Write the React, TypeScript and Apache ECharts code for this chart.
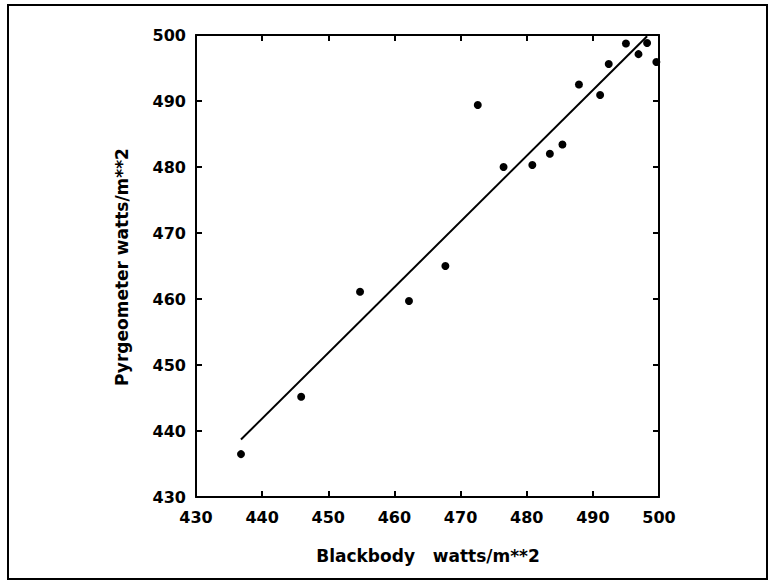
import React, { useEffect, useRef } from "react";
import * as echarts from "echarts";

const blackbody = [436.8, 445.9, 454.8, 462.2, 467.7, 472.6, 476.5, 480.85, 483.5, 485.4, 487.9, 491.1, 492.4, 495.0, 496.9, 498.2, 499.6];
const pyrgeometer = [436.5, 445.2, 461.1, 459.7, 465.0, 489.4, 480.0, 480.3, 482.0, 483.4, 492.5, 490.9, 495.6, 498.7, 497.1, 498.8, 495.9];
const fitX = [436.8, 498.2];
const fitY = [438.7, 499.8];
const xTitle = "Blackbody   watts/m**2";
const yTitle = "Pyrgeometer watts/m**2";

export default function App() {
  const ref = useRef<HTMLDivElement>(null);
  useEffect(() => {
    if (!ref.current) return;
    const chart = echarts.init(ref.current, null, { renderer: "svg" });
    const font = "DejaVu Sans";
    const axisCommon = {
      type: "value" as const,
      min: 430,
      max: 500,
      interval: 10,
      splitLine: { show: false },
      axisLine: { show: true, lineStyle: { color: "#000", width: 2 } },
      axisTick: { show: true, inside: true, length: 6, lineStyle: { color: "#000", width: 2 } },
    };
    const labelStyle = { color: "#000", fontFamily: font, fontSize: 16, fontWeight: "bold" as const };
    chart.setOption({
      animation: false,
      backgroundColor: "#fff",
      grid: { left: 196, top: 35, right: 113, bottom: 88, containLabel: false },
      xAxis: [
        { ...axisCommon, position: "bottom", axisLabel: { ...labelStyle, margin: 12 } },
        { ...axisCommon, position: "top", axisLabel: { show: false } },
      ],
      yAxis: [
        { ...axisCommon, position: "left", axisLabel: { ...labelStyle, margin: 10 } },
        { ...axisCommon, position: "right", axisLabel: { show: false } },
      ],
      graphic: [
        {
          type: "rect",
          shape: { x: 8, y: 5, width: 759, height: 574 },
          style: { fill: "none", stroke: "#000", lineWidth: 2 },
        },
        {
          type: "text",
          x: 428,
          y: 556,
          style: { text: xTitle, fill: "#000", font: `bold 17px "${font}"`, align: "center", verticalAlign: "middle" },
        },
        {
          type: "text",
          x: 122,
          y: 267,
          rotation: Math.PI / 2,
          style: { text: yTitle, fill: "#000", font: `bold 17px "${font}"`, align: "center", verticalAlign: "middle" },
        },
      ],
      series: [
        {
          type: "line",
          xAxisIndex: 0,
          yAxisIndex: 0,
          data: fitX.map((x, i) => [x, fitY[i]]),
          showSymbol: false,
          symbol: "none",
          lineStyle: { color: "#000", width: 2 },
          z: 3,
        },
        {
          type: "scatter",
          xAxisIndex: 0,
          yAxisIndex: 0,
          data: blackbody.map((x, i) => [x, pyrgeometer[i]]),
          symbol: "circle",
          symbolSize: 8,
          itemStyle: { color: "#000", opacity: 1 },
          clip: false,
          z: 4,
        },
      ],
    });
    return () => chart.dispose();
  }, []);
  return <div ref={ref} style={{ position: "fixed", left: 0, top: 0, width: 772, height: 585 }} />;
}
